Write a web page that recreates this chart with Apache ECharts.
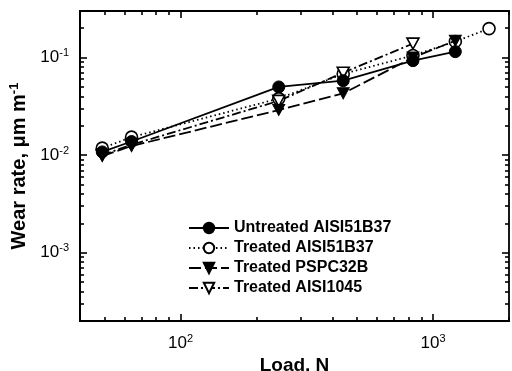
<!DOCTYPE html>
<html>
<head>
<meta charset="utf-8">
<script src="https://cdn.jsdelivr.net/npm/echarts@6/dist/echarts.min.js"></script>
<style>
  html, body { margin: 0; padding: 0; background: #fff; }
  #chart { width: 512px; height: 371px; }
</style>
</head>
<body>
<div id="chart"></div>
<script>
// Applied load (N) and wear rate (µm/m) for each material
const loads = [49, 64, 245, 441, 833, 1226, 1667];
const untreated51B37 = [0.0108, 0.0138, 0.050, 0.058, 0.093, 0.115, null];
const treated51B37   = [0.0118, 0.0153, 0.038, 0.068, 0.105, 0.146, 0.198];
const treatedPSPC32B = [0.0098, 0.0124, 0.029, 0.043, 0.100, 0.149, null];
const treated1045    = [0.0100, 0.0128, 0.036, 0.070, 0.139, null, null];

const seriesNames = ['Untreated AISI51B37', 'Treated AISI51B37', 'Treated PSPC32B', 'Treated AISI1045'];

// Axis ranges
const X_MIN = 40, X_MAX = 2000;
const Y_MIN = 2e-4, Y_MAX = 0.3;
const xDecades = [1, 2, 3];
const yDecades = [-4, -3, -2, -1];

// Log tick values: major at powers of ten, minor at 2..9 × 10^n
function logTicks(decades, lo, hi, major) {
  const res = [];
  decades.forEach(function (d) {
    for (let k = 1; k <= 9; k++) {
      if ((k === 1) !== major) continue;
      const v = Number((k * Math.pow(10, d)).toPrecision(6));
      if (v >= lo * 0.9999 && v <= hi * 1.0001) res.push(v);
    }
  });
  return res;
}
const xMajor = logTicks(xDecades, X_MIN, X_MAX, true);
const xMinor = logTicks(xDecades, X_MIN, X_MAX, false);
const yMajor = logTicks(yDecades, Y_MIN, Y_MAX, true);
const yMinor = logTicks(yDecades, Y_MIN, Y_MAX, false);

const MAJOR_LEN = 7, MINOR_LEN = 4;

const downTri = 'path://M0,0 L10,0 L5,9 Z';

function pairs(ys) {
  return loads.map(function (x, i) { return ys[i] == null ? null : [x, ys[i]]; })
              .filter(function (p) { return p; });
}

function supLabel(v) {
  const e = Math.round(Math.log10(v));
  return '{b|10}{s|' + e + '}';
}

const labelRich = {
  b: { fontFamily: 'Liberation Sans', fontSize: 17, color: '#000' },
  s: { fontFamily: 'Liberation Sans', fontSize: 11, color: '#000', verticalAlign: 'top', padding: [0, 0, 9, 0] }
};

// Extra axes that only carry inward tick marks (frame edges)
function tickAxis(dim, position, values, len) {
  return {
    type: 'log', logBase: 10,
    min: dim === 'x' ? X_MIN : Y_MIN,
    max: dim === 'x' ? X_MAX : Y_MAX,
    position: position,
    axisLine: { show: false },
    axisLabel: { show: false },
    splitLine: { show: false },
    axisTick: {
      show: true, inside: true, length: len, customValues: values,
      lineStyle: { color: '#000', width: 1.6 }
    }
  };
}

const chart = echarts.init(document.getElementById('chart'), null, { renderer: 'canvas' });

const option = {
  backgroundColor: '#fff',
  animation: false,
  grid: {
    left: 80, top: 11, right: 3, bottom: 50, outerBoundsMode: 'none',
    show: true, borderColor: '#000', borderWidth: 1.8, backgroundColor: 'transparent'
  },
  legend: {
    orient: 'vertical',
    left: 188, top: 220, padding: 0,
    itemWidth: 40, itemHeight: 13, itemGap: 4,
    data: seriesNames,
    textStyle: { fontFamily: 'Liberation Sans', fontWeight: 'bold', fontSize: 16, color: '#000' }
  },
  xAxis: [
    {
      type: 'log', logBase: 10, min: X_MIN, max: X_MAX, position: 'bottom',
      name: 'Load, N', nameLocation: 'middle', nameGap: 28,
      nameTextStyle: { fontFamily: 'Liberation Sans', fontWeight: 'bold', fontSize: 19, color: '#000' },
      axisLine: { lineStyle: { color: '#000', width: 1.8 } },
      axisTick: {
        show: true, inside: true, length: MAJOR_LEN, customValues: xMajor,
        lineStyle: { color: '#000', width: 1.6 }
      },
      splitLine: { show: false },
      axisLabel: {
        showMinLabel: false, showMaxLabel: false, margin: 12,
        formatter: supLabel, rich: labelRich
      }
    },
    tickAxis('x', 'bottom', xMinor, MINOR_LEN),
    tickAxis('x', 'top', xMajor, MAJOR_LEN),
    tickAxis('x', 'top', xMinor, MINOR_LEN)
  ],
  yAxis: [
    {
      type: 'log', logBase: 10, min: Y_MIN, max: Y_MAX, position: 'left',
      name: 'Wear rate, \u03bcm m{s|-1}', nameLocation: 'middle', nameGap: 42, nameRotate: 90,
      nameTextStyle: {
        fontFamily: 'Liberation Sans', fontWeight: 'bold', fontSize: 20, color: '#000',
        rich: {
          s: { fontFamily: 'Liberation Sans', fontWeight: 'bold', fontSize: 13, color: '#000', verticalAlign: 'top', padding: [0, 0, 10, 0] }
        }
      },
      axisLine: { lineStyle: { color: '#000', width: 1.8 } },
      axisTick: {
        show: true, inside: true, length: MAJOR_LEN, customValues: yMajor,
        lineStyle: { color: '#000', width: 1.6 }
      },
      splitLine: { show: false },
      axisLabel: {
        showMinLabel: false, showMaxLabel: false, margin: 11,
        formatter: supLabel, rich: labelRich
      }
    },
    tickAxis('y', 'left', yMinor, MINOR_LEN),
    tickAxis('y', 'right', yMajor, MAJOR_LEN),
    tickAxis('y', 'right', yMinor, MINOR_LEN)
  ],
  series: [
    {
      name: seriesNames[0], type: 'line', data: pairs(untreated51B37),
      symbol: 'circle', symbolSize: 12,
      lineStyle: { color: '#000', width: 1.8, type: 'solid' },
      itemStyle: { color: '#000', borderColor: '#000', borderWidth: 1 }, z: 4
    },
    {
      name: seriesNames[1], type: 'line', data: pairs(treated51B37),
      symbol: 'circle', symbolSize: 12,
      lineStyle: { color: '#000', width: 1.8, type: [1.5, 3] },
      itemStyle: { color: '#fff', borderColor: '#000', borderWidth: 1.6 }, z: 3
    },
    {
      name: seriesNames[2], type: 'line', data: pairs(treatedPSPC32B),
      symbol: downTri, symbolSize: [12, 11],
      lineStyle: { color: '#000', width: 1.8, type: [12, 4] },
      itemStyle: { color: '#000', borderColor: '#000', borderWidth: 1 }, z: 4
    },
    {
      name: seriesNames[3], type: 'line', data: pairs(treated1045),
      symbol: downTri, symbolSize: [12, 11],
      lineStyle: { color: '#000', width: 1.8, type: [9, 3, 2, 3] },
      itemStyle: { color: '#fff', borderColor: '#000', borderWidth: 1.6 }, z: 3
    }
  ]
};

chart.setOption(option);
</script>
</body>
</html>
